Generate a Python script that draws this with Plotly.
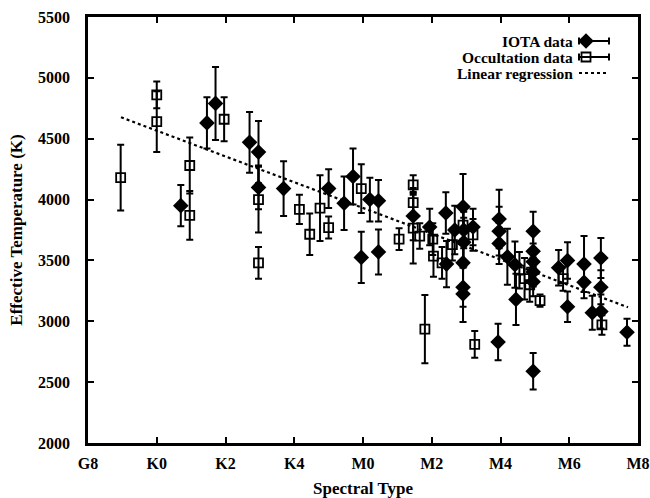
import plotly.graph_objects as go

# ---- data (spectral type coded as number: K0=0, K2=2, K4=4, M0=6, M2=8 ... M8=14, G8=-2)
tick_vals = [-2, 0, 2, 4, 6, 8, 10, 12, 14]
tick_text = ["G8", "K0", "K2", "K4", "M0", "M2", "M4", "M6", "M8"]

iota_x = [0.70, 1.46, 1.71, 2.70, 2.96, 2.96, 3.69, 5.00, 5.45, 5.71, 5.95, 6.20, 6.45, 6.45,
          7.46, 7.94, 8.41, 8.43, 8.67, 8.91, 8.93, 8.93, 8.91, 8.91, 8.91, 9.20, 9.93, 9.96,
          9.96, 9.96, 10.20, 10.42, 10.45, 10.95, 10.95, 10.95, 10.95, 10.95, 10.95, 11.69,
          11.95, 11.95, 12.43, 12.43, 12.67, 12.92, 12.92, 12.92, 13.68]
iota_t = [3950, 4630, 4790, 4470, 4390, 4100, 4090, 4090, 3970, 4190, 3525, 4000, 3990, 3570,
          3865, 3775, 3890, 3470, 3750, 3940, 3750, 3650, 3480, 3280, 3225, 3775, 2830, 3840,
          3740, 3640, 3530, 3465, 3180, 3740, 3575, 3490, 3405, 3325, 2590, 3440,
          3500, 3120, 3470, 3320, 3070, 3520, 3280, 3080, 2910]
iota_err = [170, 210, 300, 250, 255, 180, 225, 160, 220, 230, 210, 180, 170, 185,
            200, 150, 170, 190, 200, 270, 150, 200, 180, 160, 230, 150, 150, 240,
            200, 170, 230, 190, 210, 160, 180, 150, 120, 120, 150, 145,
            150, 125, 230, 130, 140, 165, 140, 140, 110]

occ_x = [-1.05, 0.0, 0.0, 0.96, 0.96, 1.96, 2.96, 2.96, 4.15, 4.45, 4.75, 5.00, 5.95, 7.05,
         7.46, 7.46, 7.46, 7.65, 7.80, 8.03, 8.05, 8.30, 8.60, 8.91, 9.20, 9.25, 10.55,
         10.70, 10.85, 11.15, 11.82, 12.95]
occ_t = [4180, 4860, 4640, 4280, 3870, 4660, 4000, 3480, 3920, 3715, 3930, 3770, 4090, 3675,
         4120, 3975, 3765, 3700, 2935, 3675, 3535, 3480, 3630, 3790, 3710, 2810, 3420,
         3350, 3300, 3170, 3350, 2970]
occ_err = [270, 110, 250, 230, 200, 180, 270, 130, 120, 170, 270, 90, 200, 90,
           80, 120, 290, 105, 280, 130, 170, 130, 130, 150, 130, 110, 150,
           170, 140, 50, 100, 80]

reg_x = [-1.04, 13.71]
reg_t = [4676, 3115]

legend_labels = ["IOTA data", "Occultation data", "Linear regression"]

TICKFONT = dict(family="Liberation Serif", size=16, color="black", weight="bold")
TITLEFONT = dict(family="Liberation Serif", size=17, color="black", weight="bold")
KEYFONT = dict(family="Liberation Serif", size=15.5, color="black", weight="bold")

fig = go.Figure()

fig.add_trace(go.Scatter(
    x=iota_x, y=iota_t, mode="markers", name=legend_labels[0], showlegend=False,
    marker=dict(symbol="diamond", size=12, color="black", line=dict(width=0)),
    error_y=dict(type="data", array=iota_err, visible=True, color="black",
                 thickness=2, width=3.5),
))
fig.add_trace(go.Scatter(
    x=occ_x, y=occ_t, mode="markers", name=legend_labels[1], showlegend=False,
    marker=dict(symbol="square-open", size=9, color="black", line=dict(width=1.8)),
    error_y=dict(type="data", array=occ_err, visible=True, color="black",
                 thickness=2, width=3.5),
))
fig.add_trace(go.Scatter(
    x=reg_x, y=reg_t, mode="lines", name=legend_labels[2], showlegend=False,
    line=dict(color="black", width=2.2, dash="dot"),
))

# ---- custom key (gnuplot style: text then sample on the right), drawn on overlay axes in pixels
key_rows = [41, 57, 73]
fig.add_trace(go.Scatter(
    x=[586], y=[key_rows[0]], xaxis="x2", yaxis="y2", mode="markers", showlegend=False,
    marker=dict(symbol="diamond", size=12, color="black"),
    error_x=dict(type="data", symmetric=False, array=[23], arrayminus=[7],
                 color="black", thickness=2, width=3.5),
))
fig.add_trace(go.Scatter(
    x=[586], y=[key_rows[1]], xaxis="x2", yaxis="y2", mode="markers", showlegend=False,
    marker=dict(symbol="square-open", size=9, color="black", line=dict(width=1.8)),
    error_x=dict(type="data", symmetric=False, array=[23], arrayminus=[7],
                 color="black", thickness=2, width=3.5),
))
fig.add_trace(go.Scatter(
    x=[579, 609], y=[key_rows[2], key_rows[2]], xaxis="x2", yaxis="y2", mode="lines",
    showlegend=False, line=dict(color="black", width=2.2, dash="dot"),
))
for lab, yy in zip(legend_labels, key_rows):
    fig.add_annotation(x=574, y=yy, xref="x2", yref="y2", text=lab, showarrow=False,
                       xanchor="right", yanchor="middle", font=KEYFONT, borderpad=0)

axis_common = dict(
    showline=True, linewidth=2.5, linecolor="black", mirror="ticks",
    ticks="inside", ticklen=6, tickwidth=2, tickcolor="black",
    showgrid=False, zeroline=False, tickfont=TICKFONT, automargin=False,
)

fig.update_layout(
    width=650, height=498,
    margin=dict(l=88, r=12, t=17, b=55),
    paper_bgcolor="white", plot_bgcolor="white",
    showlegend=False,
    xaxis=dict(range=[-2, 14], tickvals=tick_vals, ticktext=tick_text,
               title=dict(text="Spectral Type", font=TITLEFONT, standoff=14),
               ticklabelstandoff=4, **axis_common),
    yaxis=dict(range=[2000, 5500], tickvals=list(range(2000, 5501, 500)),
               title=dict(text="Effective Temperature (K)", font=TITLEFONT, standoff=12),
               ticklabelstandoff=12, **axis_common),
    xaxis2=dict(overlaying="x", anchor="y2", range=[88, 638], visible=False,
                fixedrange=True),
    yaxis2=dict(overlaying="y", anchor="x2", range=[443, 17], visible=False,
                fixedrange=True),
)

fig.write_html("out.html")
